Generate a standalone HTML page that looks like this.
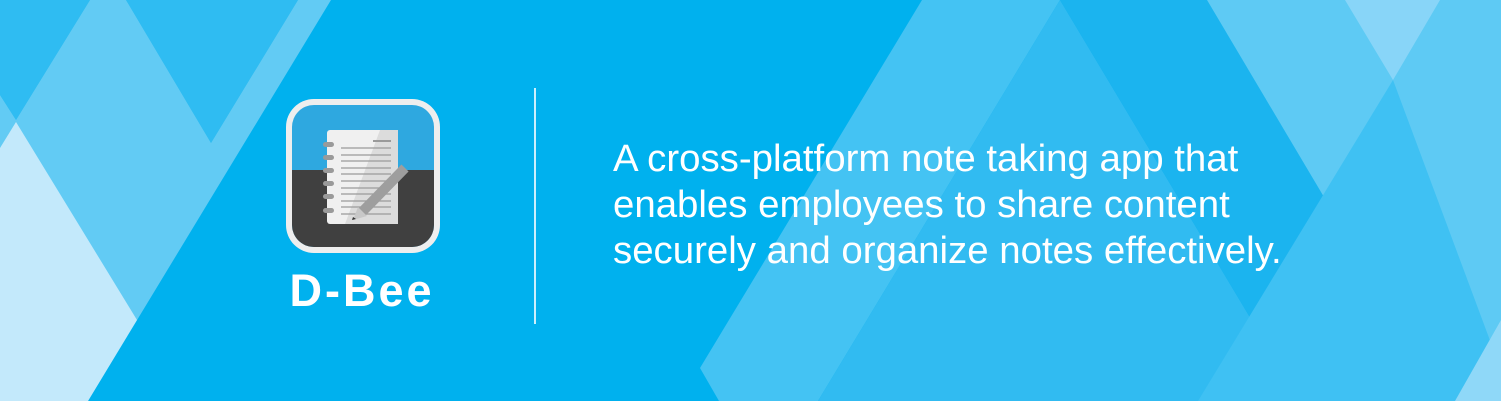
<!DOCTYPE html>
<html><head><meta charset="utf-8"><style>
html,body{margin:0;padding:0;}
body{width:1501px;height:401px;overflow:hidden;position:relative;background:#00b1ee;font-family:"Liberation Sans",sans-serif;}
svg{position:absolute;left:0;top:0;}
.title{position:absolute;left:262px;width:200px;top:266px;text-align:center;color:#fff;font-weight:bold;font-size:45px;letter-spacing:3px;line-height:50px;}
.line{position:absolute;left:534px;top:88px;width:1.5px;height:236px;background:rgba(255,255,255,0.8);}
.p{position:absolute;left:613px;top:136px;color:#fff;font-size:38.4px;line-height:46px;white-space:nowrap;}
</style></head><body>
<svg width="1501" height="401" viewBox="0 0 1501 401">
<polygon points="0,0 90,0 16,120 0,95" fill="#2fbcf2"/>
<polygon points="126,0 298,0 211,143" fill="#2fbcf2"/>
<polygon points="90,0 126,0 211,143 298,0 331,0 88,401 0,401 0,95 16,120" fill="#62cbf4"/>
<polygon points="0,148 16,122 137,320 88,401 0,401" fill="#c3e9fb"/>
<polygon points="922,0 1060,0 818,401 719,401 700,368" fill="#44c3f3"/>
<polygon points="1060,0 1300,401 818,401" fill="#31bbf1"/>
<polygon points="1060,0 1207,0 1445,401 1300,401" fill="#1bb4ef"/>
<polygon points="1207,0 1501,0 1501,401 1445,401" fill="#5ecaf4"/>
<polygon points="1393,80 1501,370 1470,401 1198,401" fill="#3fc1f3"/>
<polygon points="1345,0 1440,0 1393,80" fill="#88d5f8"/>
<polygon points="1501,320 1501,401 1455,401" fill="#8fd8f8"/>
<rect x="286" y="99" width="154" height="154" rx="28" fill="#eeeeee"/>
<clipPath id="c"><rect x="292" y="105" width="142" height="142" rx="22"/></clipPath>
<g clip-path="url(#c)">
<rect x="292" y="105" width="142" height="142" fill="#2ea8e0"/>
<rect x="292" y="170" width="142" height="80" fill="#404040"/>
</g>
<rect x="327" y="130" width="71" height="94" rx="3" fill="#f0f0f0"/>
<polygon points="380,130 398,130 398,224 345,224" fill="#dcdcdc"/>
<g fill="#9a9a9a">
<rect x="323" y="142" width="11" height="5" rx="2.5"/><rect x="323" y="155" width="11" height="5" rx="2.5"/>
<rect x="323" y="168" width="11" height="5" rx="2.5"/><rect x="323" y="181" width="11" height="5" rx="2.5"/>
<rect x="323" y="194" width="11" height="5" rx="2.5"/><rect x="323" y="208" width="11" height="5" rx="2.5"/>
</g>
<g stroke="#9a9a9a" stroke-width="1.2">
<line x1="373" y1="141" x2="391" y2="141" stroke-width="2"/>
<line x1="341" y1="148" x2="391" y2="148"/><line x1="341" y1="155" x2="391" y2="155"/>
<line x1="341" y1="161" x2="391" y2="161"/><line x1="341" y1="168" x2="391" y2="168"/>
<line x1="341" y1="174" x2="391" y2="174"/><line x1="341" y1="181" x2="391" y2="181"/>
<line x1="341" y1="188" x2="391" y2="188"/><line x1="341" y1="194" x2="391" y2="194"/>
<line x1="341" y1="201" x2="391" y2="201"/><line x1="341" y1="207" x2="391" y2="207"/>
<line x1="341" y1="214" x2="391" y2="214"/>
</g>
<line x1="405" y1="168" x2="362" y2="212" stroke="#9e9e9e" stroke-width="10"/>
<polygon points="358,207 367,216 353,220" fill="#c8c8c8"/>
<polygon points="353,217 356,219 352,220" fill="#333"/>
</svg>
<div class="title">D-Bee</div>
<div class="line"></div>
<div class="p">A cross-platform note taking app that<br>enables employees to share content<br>securely and organize notes effectively.</div>
</body></html>
